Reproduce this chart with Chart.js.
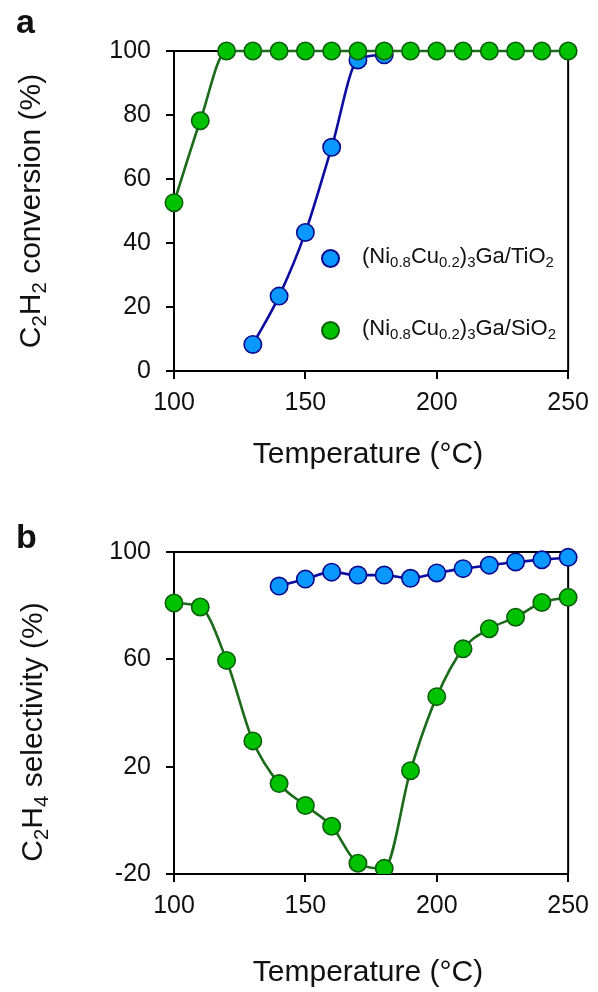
<!DOCTYPE html>
<html>
<head>
<meta charset="utf-8">
<script src="https://cdn.jsdelivr.net/npm/chart.js@4.4.1/dist/chart.umd.min.js"></script>
<style>
  body { margin: 0; background: #fff; font-family: "Liberation Sans", Arial, sans-serif; color: #111; }
  .panel { position: absolute; left: 0; width: 598px; height: 496px; }
  .panel canvas { position: absolute; left: 0; top: 0; }
  .lbl { position: absolute; white-space: nowrap; transform: translate(-50%, -50%); }
  .title { font-size: 30px; }
  .ytitle { transform: translate(-50%, -50%) rotate(-90deg); }
  .panel-tag { position: absolute; font-weight: bold; font-size: 34px; }
  sub { font-size: 0.68em; vertical-align: -0.28em; line-height: 0; }
  .legend { position: absolute; left: 321px; font-size: 22px; }
  .legend .row { position: absolute; left: 0; white-space: nowrap; height: 30px; line-height: 30px; }
  .legend .dot { position: absolute; left: 0; top: 6px; width: 15px; height: 15px; border-radius: 50%; border: 2px solid; }
  .legend .txt { position: absolute; left: 41px; top: -2px; }
</style>
</head>
<body>
<div class="panel" id="pa" style="top:0">
  <canvas id="convChart" width="598" height="496"></canvas>
  <div class="panel-tag" style="left:16px; top:2px">a</div>
  <div class="lbl title ytitle" style="left:30px; top:211px">C<sub>2</sub>H<sub>2</sub> conversion (%)</div>
  <div class="lbl title" style="left:368px; top:453px">Temperature (°C)</div>
  <div class="legend" id="legend" style="top:0"></div>
</div>
<div class="panel" id="pb" style="top:496px">
  <canvas id="selChart" width="598" height="496"></canvas>
  <div class="panel-tag" style="left:16px; top:21px">b</div>
  <div class="lbl title ytitle" style="left:32px; top:236px">C<sub>2</sub>H<sub>4</sub> selectivity (%)</div>
  <div class="lbl title" style="left:368px; top:475px">Temperature (°C)</div>
</div>
<script>
// reaction temperatures (°C)
const temps = [100, 110, 120, 130, 140, 150, 160, 170, 180, 190, 200, 210, 220, 230, 240, 250];
const tempsTiConv = [130, 140, 150, 160, 170, 180];
const tempsTiSel = [140, 150, 160, 170, 180, 190, 200, 210, 220, 230, 240, 250];

// C2H2 conversion (%)
const convSi = [52.6, 78.2, 100, 100, 100, 100, 100, 100, 100, 100, 100, 100, 100, 100, 100, 100];
const convTi = [8.3, 23.4, 43.3, 69.9, 97.2, 98.8];

// C2H4 selectivity (%)
const selSi = [81.0, 79.5, 59.6, 29.6, 13.7, 5.5, -2.2, -16.0, -17.9, 18.5, 46.1, 63.9, 71.4, 75.7, 81.2, 83.1];
const selTi = [87.3, 89.9, 92.5, 91.4, 91.4, 90.2, 92.2, 93.8, 95.1, 96.3, 97.1, 98.0];

const xTicks = [100, 150, 200, 250];
const convTicks = [0, 20, 40, 60, 80, 100];
const selTicks = [-20, 20, 60, 100];

const seriesNames = ["(Ni<sub>0.8</sub>Cu<sub>0.2</sub>)<sub>3</sub>Ga/TiO<sub>2</sub>",
                     "(Ni<sub>0.8</sub>Cu<sub>0.2</sub>)<sub>3</sub>Ga/SiO<sub>2</sub>"];

const TI = { fill: "#0a98ff", edge: "#08088c", line: "#0c0ca0" };
const SI = { fill: "#00c200", edge: "#0b5f0b", line: "#1b6b1b" };

const pts = (xs, ys) => xs.map((x, i) => ({ x: x, y: ys[i] }));

function series(data, c) {
    return {
        data: data,
        borderColor: c.line,
        borderWidth: 2.6,
        pointRadius: 8.7,
        pointHoverRadius: 8.7,
        pointBackgroundColor: c.fill,
        pointBorderColor: c.edge,
        pointBorderWidth: 1.6,
        cubicInterpolationMode: "monotone",
        clip: { left: false, top: false, right: false, bottom: 0 }
    };
}

// closes the plot box on top and right
const boxPlugin = {
    id: "box",
    beforeDatasetsDraw(chart) {
        const a = chart.chartArea, ctx = chart.ctx;
        ctx.save();
        ctx.strokeStyle = "#000";
        ctx.lineWidth = 2;
        ctx.beginPath();
        ctx.moveTo(a.left, a.top);
        ctx.lineTo(a.right, a.top);
        ctx.lineTo(a.right, a.bottom);
        ctx.stroke();
        ctx.restore();
    }
};

function axisOpts(values, min, max, fitSize, isY, pad) {
    return {
        type: "linear",
        min: min,
        max: max,
        afterBuildTicks: s => { s.ticks = values.map(v => ({ value: v })); },
        afterFit: s => { if (isY) s.width = fitSize; else s.height = fitSize; },
        border: { display: true, color: "#000", width: 2 },
        grid: { drawOnChartArea: false, color: "#000", lineWidth: 2, tickLength: 8 },
        ticks: {
            color: "#111",
            padding: pad,
            maxRotation: 0,
            font: { family: "'Liberation Sans', Arial, sans-serif", size: 25 }
        }
    };
}

function makeChart(id, datasets, yTicks, yMin, yMax, top, right, xHeight) {
    return new Chart(document.getElementById(id), {
        type: "line",
        data: { datasets: datasets },
        options: {
            responsive: false,
            animation: false,
            layout: { padding: { top: top, right: right, left: 0, bottom: 0 } },
            plugins: { legend: { display: false }, tooltip: { enabled: false } },
            scales: {
                x: axisOpts(xTicks, 100, 250, xHeight, false, 9),
                y: axisOpts(yTicks, yMin, yMax, 174, true, 15)
            }
        },
        plugins: [boxPlugin]
    });
}

// green first so its markers sit on top of the blue ones
makeChart("convChart",
    [series(pts(temps, convSi), SI), series(pts(tempsTiConv, convTi), TI)],
    convTicks, 0, 100, 51, 27, 125);

makeChart("selChart",
    [series(pts(temps, selSi), SI), series(pts(tempsTiSel, selTi), TI)],
    selTicks, -20, 100, 56, 26, 118);

// legend inside panel a
const legend = document.getElementById("legend");
[[TI, 258], [SI, 330]].forEach(([c, y], i) => {
    const row = document.createElement("div");
    row.className = "row";
    row.style.top = (y - 15) + "px";
    row.innerHTML = '<span class="dot" style="background:' + c.fill + ';border-color:' + c.edge +
        '"></span><span class="txt">' + seriesNames[i] + "</span>";
    legend.appendChild(row);
});
</script>
</body>
</html>
